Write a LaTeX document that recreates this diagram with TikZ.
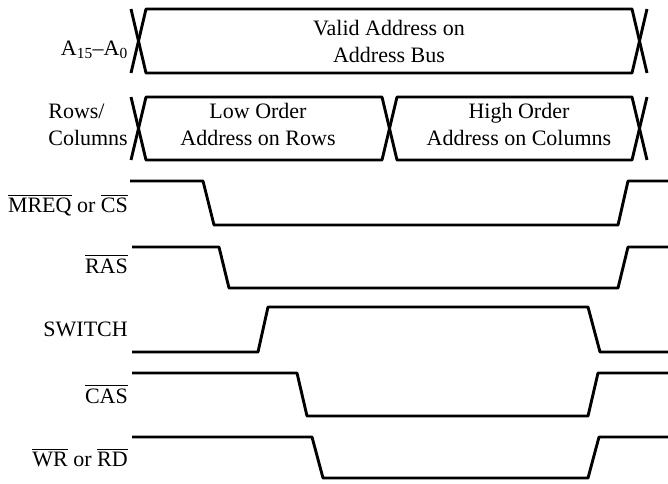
\documentclass[tikz,border=0pt]{standalone}
\usepackage{amsmath}
\usepackage{fontspec}
\setmainfont{Liberation Serif}
\usepackage{tikz}
\usetikzlibrary{positioning, calc}
\newcommand{\ovl}[1]{$\overline{\mbox{#1}}$}

\begin{document}
\begin{tikzpicture}[x=1pt, y=-1pt, line join=round,
    wave/.style={line width=2.9pt},
    lbl/.style={anchor=base east, inner sep=0pt, font=\fontsize{22}{27}\selectfont},
    txt/.style={align=center, inner sep=0pt, font=\fontsize{22}{27}\selectfont}]
    \useasboundingbox (0,0) rectangle (668,483);
    % address bus
    \draw[wave] (146,9) -- (632,9) -- (639.5,41) -- (632,73) -- (146,73) -- (138.5,41) -- cycle;
    \draw[wave] (131,9) -- (138.5,41) -- (131,73);
    \draw[wave] (647,9) -- (639.5,41) -- (647,73);
    \node[txt, anchor=base] (bustxt) at (389,62) {Valid Address on\\Address Bus};
    \node[lbl] (addr) at (128,55) {A\textsubscript{15}--A\textsubscript{0}};
    % rows / columns
    \draw[wave] (146,97) -- (382,97) -- (389.5,128.5) -- (382,160) -- (146,160) -- (138.5,128.5) -- cycle;
    \draw[wave] (397,97) -- (632,97) -- (639.5,128.5) -- (632,160) -- (397,160) -- (389.5,128.5) -- cycle;
    \draw[wave] (131,97) -- (138.5,128.5) -- (131,160);
    \draw[wave] (647,97) -- (639.5,128.5) -- (647,160);
    \node[txt, anchor=base] (lowtxt) at (258,145) {Low Order\\Address on Rows};
    \node[txt, anchor=base] (hightxt) at (519,145) {High Order\\Address on Columns};
    \node[txt, align=left, anchor=base east] (rowcol) at (128,145) {Rows/\\Columns};
    % control lines
    \draw[wave] (130,181) -- (203,181) -- (214,225) -- (618,225) -- (628,181) -- (668,181);
    \node[lbl] (mreq) at (128,212.5) {\ovl{MREQ} or \ovl{CS}};
    \draw[wave] (132,247) -- (219,247) -- (229,288) -- (618,288) -- (628,247) -- (668,247);
    \node[lbl] (ras) at (128,273) {\ovl{RAS}};
    \draw[wave] (132,352) -- (258,352) -- (268,307) -- (588,307) -- (600,352) -- (668,352);
    \node[lbl] (switch) at (128,336.5) {SWITCH};
    \draw[wave] (132,373) -- (297,373) -- (307,416) -- (588,416) -- (598,373) -- (668,373);
    \node[lbl] (cas) at (128,403) {\ovl{CAS}};
    \draw[wave] (132,437) -- (312,437) -- (323,478) -- (588,478) -- (599,437) -- (668,437);
    \node[lbl] (wrrd) at (128,466.5) {\ovl{WR} or \ovl{RD}};
\end{tikzpicture}
\end{document}
